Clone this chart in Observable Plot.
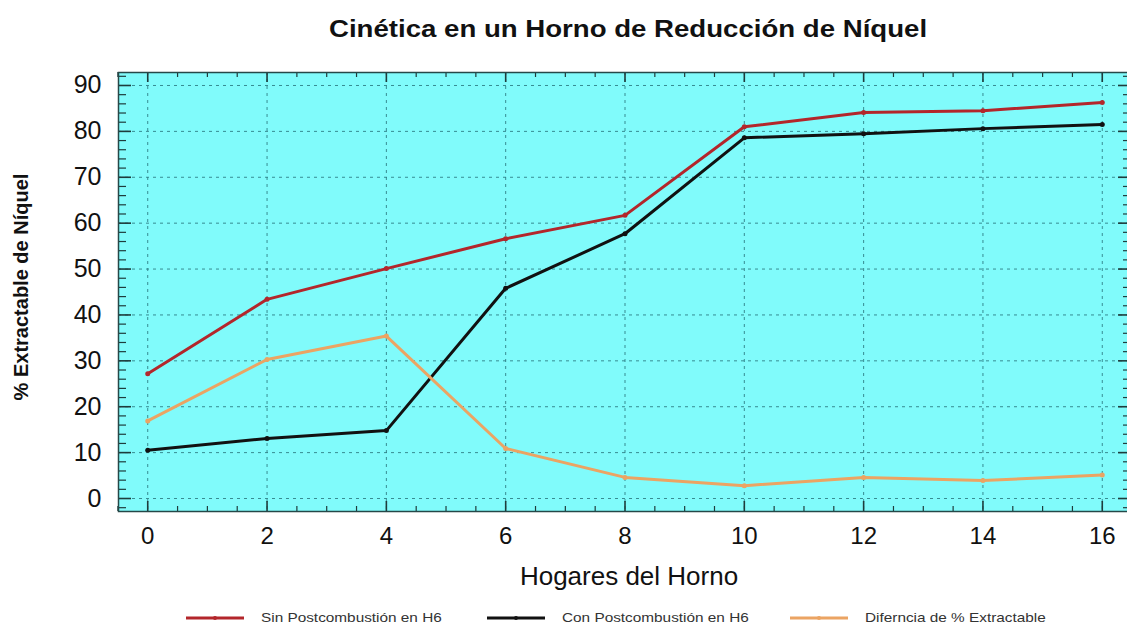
<!DOCTYPE html>
<html>
<head>
<meta charset="utf-8">
<script src="https://cdn.jsdelivr.net/npm/d3@7"></script>
<script src="https://cdn.jsdelivr.net/npm/@observablehq/plot@0.6"></script>
<style>
  html, body { margin: 0; padding: 0; background: #fff; overflow: hidden; width: 1127px; height: 627px; }
  body { position: relative; font-family: "Liberation Sans", Arial, sans-serif; }
  #title { position: absolute; left: 0; top: 0; width: 1256px; height: 58px; line-height: 58px; text-align: center;
           font-weight: bold; font-size: 24px; color: #111; }
  #title span { display: inline-block; transform: scaleX(1.15); }
  #chart { position: absolute; left: 0; top: 60px; width: 1132px; }
  #chart svg { max-width: none; }
  #legend { position: absolute; left: 0; top: 604px; width: 1127px; height: 27px; }
  .item { position: absolute; top: 0; height: 27px; display: flex; align-items: center; font-size: 13px; color: #333; }
  .item svg { margin-right: 17px; }
  .item span { display: inline-block; transform: scaleX(1.18); transform-origin: left center; }
</style>
</head>
<body>
<div id="title"><span>Cinética en un Horno de Reducción de Níquel</span></div>
<div id="chart"></div>
<div id="legend"></div>
<script>
// ---- data ----
const hogares = [0, 2, 4, 6, 8, 10, 12, 14, 16];
const sinPost = [27.2, 43.4, 50.1, 56.6, 61.7, 81.0, 84.1, 84.5, 86.3];
const conPost = [10.5, 13.1, 14.8, 45.8, 57.7, 78.6, 79.5, 80.6, 81.5];
const diferencia = [16.9, 30.3, 35.4, 10.9, 4.6, 2.8, 4.6, 3.9, 5.1];
const seriesNames = ["Sin Postcombustión en H6", "Con Postcombustión en H6", "Diferncia de % Extractable"];
const seriesColors = ["#b3262b", "#111111", "#eba463"];
const yTicks = [0, 10, 20, 30, 40, 50, 60, 70, 80, 90];
const xTicks = [0, 2, 4, 6, 8, 10, 12, 14, 16];
const yMinor = d3.range(-2, 93, 2).filter(v => v % 10 !== 0);
const xMinor = d3.range(-0.5, 16.6, 0.5).filter(v => v % 2 !== 0);

const rows = [];
[sinPost, conPost, diferencia].forEach((arr, s) => {
  arr.forEach((v, i) => rows.push({x: hogares[i], y: v, serie: seriesNames[s]}));
});

const W = 1132, H = 540, mL = 118, mR = 1, mT = 12, mB = 89;
const iw = W - mL - mR, ih = H - mT - mB;
const tickColor = "#1e3c3c";

const chart = Plot.plot({
  width: W, height: H,
  marginLeft: mL, marginRight: mR, marginTop: mT, marginBottom: mB,
  style: {fontFamily: "Liberation Sans, Arial, sans-serif", background: "transparent", color: "#111", maxWidth: "none"},
  x: {domain: [-0.49, 16.49]},
  y: {domain: [-2.83, 92.83]},
  color: {domain: seriesNames, range: seriesColors},
  marks: [
    Plot.frame({fill: "#80fbfb"}),
    Plot.gridY(yTicks, {stroke: "#2f7f86", strokeOpacity: 0.9, strokeDasharray: "3,4", strokeWidth: 1}),
    Plot.gridX(xTicks, {stroke: "#2f7f86", strokeOpacity: 0.9, strokeDasharray: "3,4", strokeWidth: 1}),
    // inward ticks on all four sides
    Plot.tickY(yTicks, {y: d => d, insetRight: iw - 13, stroke: tickColor, strokeWidth: 1.6}),
    Plot.tickY(yMinor, {y: d => d, insetRight: iw - 8, stroke: tickColor, strokeWidth: 1.2}),
    Plot.tickY(yTicks, {y: d => d, insetLeft: iw - 13, stroke: tickColor, strokeWidth: 1.6}),
    Plot.tickY(yMinor, {y: d => d, insetLeft: iw - 8, stroke: tickColor, strokeWidth: 1.2}),
    Plot.tickX(xTicks, {x: d => d, insetTop: ih - 10, stroke: tickColor, strokeWidth: 1.6}),
    Plot.tickX(xMinor, {x: d => d, insetTop: ih - 5, stroke: tickColor, strokeWidth: 1.2}),
    Plot.tickX(xTicks, {x: d => d, insetBottom: ih - 10, stroke: tickColor, strokeWidth: 1.6}),
    Plot.tickX(xMinor, {x: d => d, insetBottom: ih - 5, stroke: tickColor, strokeWidth: 1.2}),
    Plot.frame({stroke: "#254848", strokeWidth: 1.5}),
    Plot.axisY(yTicks, {tickSize: 0, tickPadding: 17, fontSize: 25, label: null, fill: "#111"}),
    Plot.axisX(xTicks, {tickSize: 0, tickPadding: 15, fontSize: 24, label: null, fill: "#111"}),
    Plot.text(["Hogares del Horno"], {frameAnchor: "bottom", dy: 73, dx: 4, text: d => d, fontSize: 26, fill: "#111"}),
    Plot.text(["% Extractable de Níquel"], {frameAnchor: "left", textAnchor: "middle", dx: -97, dy: -5, rotate: -90, text: d => d, fontSize: 20, fontWeight: "bold", fill: "#111"}),
    Plot.line(rows, {x: "x", y: "y", z: "serie", stroke: "serie", strokeWidth: 3}),
    Plot.dot(rows, {x: "x", y: "y", fill: "serie", r: 2.5, stroke: "none"})
  ]
});
document.getElementById("chart").appendChild(chart);

// legend
const legendX = [186, 487, 790];
const legend = document.getElementById("legend");
seriesNames.forEach((name, i) => {
  const div = document.createElement("div");
  div.className = "item";
  div.style.left = legendX[i] + "px";
  div.innerHTML = `<svg width="58" height="10"><line x1="0" x2="58" y1="5" y2="5" stroke="${seriesColors[i]}" stroke-width="3"/><circle cx="29" cy="5" r="2" fill="${seriesColors[i]}"/></svg><span>${name}</span>`;
  legend.appendChild(div);
});
</script>
</body>
</html>
